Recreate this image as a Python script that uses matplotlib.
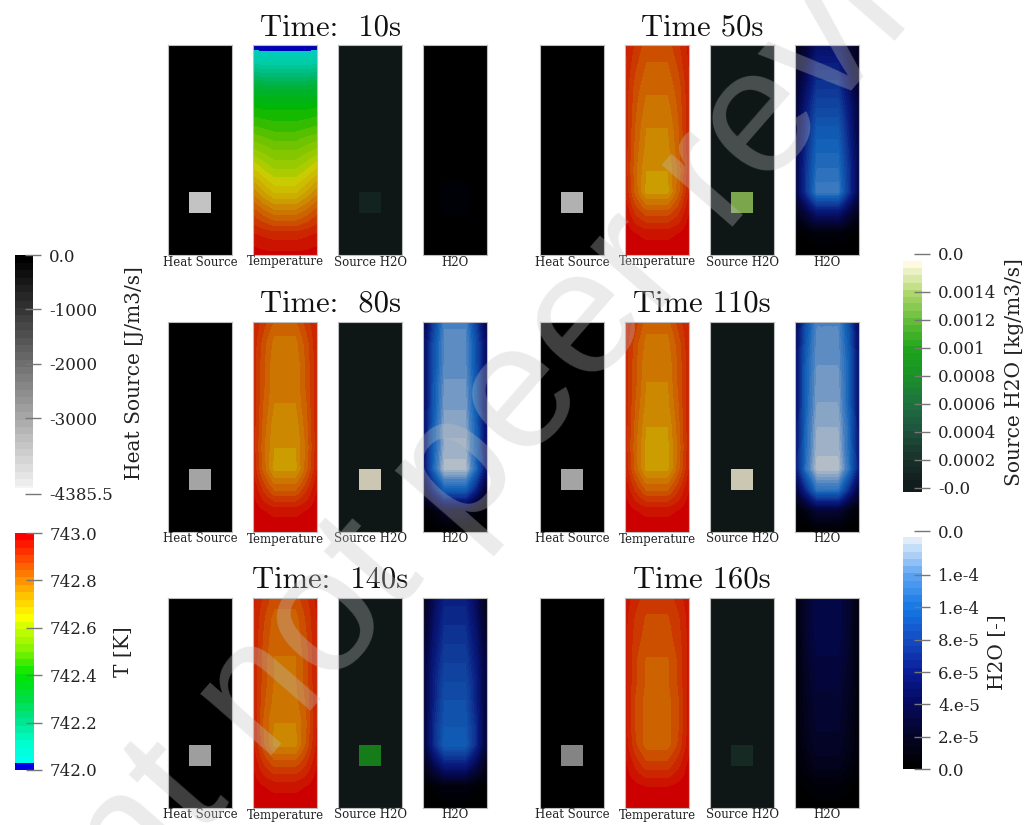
import matplotlib
matplotlib.use("Agg")
import matplotlib.pyplot as plt
import numpy as np
from matplotlib.colors import LinearSegmentedColormap, ListedColormap, Normalize

plt.rcParams["font.family"] = "DejaVu Serif"

# ---- data ---------------------------------------------------------------
titles = ["Time:  10s", "Time 50s", "Time:  80s", "Time 110s", "Time:  140s", "Time 160s"]
field_names = ["Heat Source", "Temperature", "Source H2O", "H2O"]

# value inside the small source cell (row 7, middle column of a 3x10 mesh)
heat_square = [-4385.5, -3880, -3650, -3700, -3430, -2980]          # J/m3/s
source_square = [0.00018, 0.00134, 0.00159, 0.00159, 0.00088, 0.00022]  # kg/m3/s

# temperature [K] at 11 nodes, top -> bottom: edge, mid and centre column
temp_edge = [
    [742.00, 742.14, 742.31, 742.41, 742.48, 742.57, 742.67, 742.77, 742.87, 742.94, 742.99],
    [742.95, 742.94, 742.93, 742.93, 742.93, 742.93, 742.93, 742.94, 742.97, 742.99, 743.00],
    [742.94, 742.93, 742.93, 742.93, 742.93, 742.93, 742.93, 742.94, 742.97, 742.99, 743.00],
    [742.94, 742.93, 742.93, 742.93, 742.93, 742.93, 742.93, 742.94, 742.97, 742.99, 743.00],
    [742.95, 742.94, 742.94, 742.94, 742.94, 742.94, 742.94, 742.95, 742.97, 742.99, 743.00],
    [742.96, 742.95, 742.95, 742.95, 742.95, 742.95, 742.95, 742.96, 742.98, 742.99, 743.00],
]
temp_mid = [
    [741.99, 742.13, 742.30, 742.40, 742.47, 742.55, 742.63, 742.72, 742.83, 742.93, 742.98],
    [742.90, 742.88, 742.86, 742.85, 742.84, 742.83, 742.82, 742.83, 742.90, 742.97, 742.99],
    [742.89, 742.86, 742.85, 742.85, 742.84, 742.83, 742.82, 742.83, 742.90, 742.97, 742.99],
    [742.89, 742.86, 742.85, 742.85, 742.84, 742.83, 742.82, 742.83, 742.90, 742.97, 742.99],
    [742.90, 742.88, 742.87, 742.86, 742.86, 742.85, 742.84, 742.85, 742.91, 742.97, 742.99],
    [742.92, 742.90, 742.89, 742.88, 742.88, 742.87, 742.87, 742.88, 742.93, 742.98, 742.99],
]
temp_center = [
    [741.99, 742.13, 742.30, 742.40, 742.46, 742.53, 742.60, 742.68, 742.80, 742.92, 742.98],
    [742.86, 742.84, 742.82, 742.80, 742.78, 742.77, 742.75, 742.74, 742.86, 742.96, 742.99],
    [742.84, 742.80, 742.79, 742.79, 742.78, 742.76, 742.75, 742.74, 742.84, 742.96, 742.99],
    [742.83, 742.80, 742.79, 742.78, 742.77, 742.75, 742.74, 742.74, 742.84, 742.96, 742.99],
    [742.86, 742.83, 742.82, 742.81, 742.81, 742.80, 742.78, 742.77, 742.87, 742.96, 742.99],
    [742.89, 742.87, 742.86, 742.84, 742.84, 742.83, 742.83, 742.83, 742.89, 742.97, 742.99],
]

# H2O mass fraction in units of 1e-5, same node layout
h2o_edge = [
    [0, 0, 0, 0, 0, 0, 0, 0, 0, 0, 0],
    [1.5, 2.0, 2.5, 3.0, 3.0, 3.5, 3.5, 3.5, 1.5, 0.2, 0],
    [3.5, 4.5, 4.5, 4.5, 4.5, 5.0, 5.0, 5.0, 2.5, 0.4, 0],
    [4.0, 4.5, 5.0, 5.0, 5.0, 5.0, 5.5, 5.5, 3.0, 0.5, 0],
    [1.5, 2.0, 2.5, 3.0, 3.0, 3.0, 3.0, 3.0, 1.5, 0.2, 0],
    [0.8, 0.8, 0.8, 0.8, 0.8, 0.8, 0.7, 0.7, 0.5, 0.2, 0],
]
h2o_mid = [
    [0, 0, 0, 0, 0, 0, 0.1, 0.3, 0.2, 0, 0],
    [3.0, 4.0, 5.0, 6.0, 6.5, 7.0, 7.5, 7.5, 3.5, 0.5, 0],
    [8.0, 9.0, 9.0, 9.5, 9.5, 10.0, 10.0, 10.5, 6.5, 1.2, 0],
    [9.0, 9.5, 10.0, 10.0, 10.0, 10.5, 10.5, 11.0, 7.0, 1.5, 0],
    [4.5, 5.0, 5.5, 6.0, 6.5, 6.5, 7.0, 7.0, 4.0, 0.6, 0],
    [2.8, 2.8, 2.7, 2.5, 2.3, 2.1, 2.0, 1.8, 1.3, 0.5, 0.1],
]
h2o_center = [
    [0, 0, 0, 0, 0, 0, 0.3, 0.6, 0.5, 0.1, 0],
    [5.0, 6.5, 7.5, 8.5, 9.5, 10.2, 10.8, 11.5, 5.5, 1.0, 0],
    [12.0, 12.2, 12.3, 12.6, 12.9, 13.2, 13.6, 14.1, 10.0, 2.5, 0.3],
    [12.0, 12.3, 12.5, 12.8, 13.0, 13.4, 13.7, 14.1, 11.0, 3.0, 0.4],
    [6.5, 7.0, 7.5, 8.0, 8.5, 9.0, 9.3, 9.8, 6.0, 1.2, 0.1],
    [4.0, 4.0, 3.8, 3.5, 3.2, 3.0, 2.8, 2.5, 2.0, 0.8, 0.2],
]

# colour bar ticks
heat_ticks = [0.0, -1000, -2000, -3000, -4385.5]
heat_labels = ["0.0", "-1000", "-2000", "-3000", "-4385.5"]
temp_ticks = [743.0, 742.8, 742.6, 742.4, 742.2, 742.0]
temp_labels = ["743.0", "742.8", "742.6", "742.4", "742.2", "742.0"]
src_ticks = [0.00167, 0.0014, 0.0012, 0.001, 0.0008, 0.0006, 0.0004, 0.0002, 0.0]
src_labels = ["0.0", "0.0014", "0.0012", "0.001", "0.0008", "0.0006", "0.0004", "0.0002", "-0.0"]
h2o_ticks = [1.472e-4, 1.2e-4, 1e-4, 8e-5, 6e-5, 4e-5, 2e-5, 0.0]
h2o_labels = ["0.0", "1.e-4", "1.e-4", "8.e-5", "6.e-5", "4.e-5", "2.e-5", "0.0"]

# ---- colour maps ----------------------------------------------------------
HEAT_ANCH = [(0.0, (0.96, 0.96, 0.96)), (1.0, (0.0, 0.0, 0.0))]
TEMP_ANCH = [(0.0, (0.0, 0.0, 0.9)), (0.031, (0.0, 1.0, 0.92)), (0.1, (0.0, 1.0, 0.8)),
             (0.2, (0.0, 0.9, 0.55)), (0.3, (0.0, 0.87, 0.25)), (0.4, (0.0, 0.9, 0.0)),
             (0.5, (0.5, 0.95, 0.0)), (0.6, (0.8, 1.0, 0.0)), (0.65, (1.0, 1.0, 0.0)),
             (0.75, (1.0, 0.75, 0.0)), (0.8, (1.0, 0.6, 0.0)), (0.9, (1.0, 0.3, 0.0)),
             (1.0, (1.0, 0.0, 0.0))]
SRC_ANCH = [(0.0, (0.07, 0.11, 0.11)), (0.12, (0.1, 0.2, 0.17)), (0.25, (0.12, 0.33, 0.25)),
            (0.37, (0.12, 0.45, 0.25)), (0.5, (0.1, 0.58, 0.15)), (0.62, (0.12, 0.65, 0.1)),
            (0.74, (0.38, 0.74, 0.22)), (0.87, (0.68, 0.84, 0.42)), (1.0, (1.0, 0.98, 0.88))]
H2O_ANCH = [(0.0, (0.0, 0.0, 0.0)), (0.14, (0.02, 0.02, 0.16)), (0.28, (0.02, 0.04, 0.38)),
            (0.42, (0.04, 0.12, 0.6)), (0.56, (0.08, 0.3, 0.76)), (0.70, (0.08, 0.47, 0.9)),
            (0.84, (0.35, 0.63, 0.95)), (1.0, (0.88, 0.93, 0.98))]

SHADE = 0.8  # the rendered fields look darker than the bars (lighting)


def banded(anchors, shade=1.0, n=32):
    base = LinearSegmentedColormap.from_list("base", anchors)
    cols = base(np.linspace(0, 1, n))
    cols[:, :3] *= shade
    cm = ListedColormap(cols)
    cm.set_under(cols[0])
    cm.set_over(cols[-1])
    return cm


heat_norm = Normalize(-4385.5, 0.0)
temp_norm = Normalize(742.0, 743.0)
src_norm = Normalize(0.0, 0.001614)
h2o_norm = Normalize(0.0, 1.43e-4)

W, H = 1033, 825
fig = plt.figure(figsize=(W / 100, H / 100), dpi=100)


def px_axes(x, y, w, h):
    return fig.add_axes([x / W, 1 - (y + h) / H, w / W, h / H])


def cell_field(value):
    grid = np.zeros((10, 3))
    grid[7, 1] = value
    return grid


def node_field(edge, mid, center):
    # node columns at x = 0, .5, 1, 1.5, 2, 2.5, 3 (mesh is 3 cells wide)
    return np.column_stack([edge, mid, center, center, center, mid, edge])


col_left = [[168, 253, 338, 423], [540, 625, 710, 795]]
row_top = [45, 322, 598]
title_x = [330, 702]
RW, RH = 64, 210

for i in range(6):
    r, c = divmod(i, 2)
    top = row_top[r]
    fields = [
        (cell_field(heat_square[i]), banded(HEAT_ANCH, SHADE), heat_norm, "cell"),
        (node_field(temp_edge[i], temp_mid[i], temp_center[i]), banded(TEMP_ANCH, SHADE), temp_norm, "node"),
        (cell_field(source_square[i]), banded(SRC_ANCH, SHADE), src_norm, "cell"),
        (node_field(h2o_edge[i], h2o_mid[i], h2o_center[i]) * 1e-5, banded(H2O_ANCH, SHADE), h2o_norm, "node"),
    ]
    for j, (grid, cm, nm, kind) in enumerate(fields):
        x0 = col_left[c][j]
        ax = px_axes(x0, top, RW, RH)
        if kind == "cell":
            ax.imshow(grid, cmap=cm, norm=nm, extent=(0, 3, 10, 0),
                      interpolation="nearest", aspect="auto")
        else:
            ax.imshow(grid, cmap=cm, norm=nm, extent=(-0.25, 3.25, 10.5, -0.5),
                      interpolation="bilinear", interpolation_stage="data", aspect="auto")
        ax.set_xlim(0, 3)
        ax.set_ylim(10, 0)
        ax.set_xticks([])
        ax.set_yticks([])
        for s in ax.spines.values():
            s.set_color("#bdbdbd")
            s.set_linewidth(0.8)
        fig.text((x0 + RW / 2) / W, 1 - (top + RH + 7) / H, field_names[j],
                 ha="center", va="center", fontsize=8.5, color="#222222")
    fig.text(title_x[c] / W, 1 - (top - 10) / H, titles[i], family="cmr10",
             ha="center", va="baseline", fontsize=22, color="#111111")


def color_bar(x, w, ytop, ybot, ylim, lo, hi, anchors, norm, ticks, labels, label, lx, ly):
    ax = px_axes(x, ytop, w, ybot - ytop)
    grad = np.linspace(lo, hi, 256)[:, None]
    ax.imshow(grad, cmap=banded(anchors), norm=norm, origin="lower",
              extent=(0, 1, lo, hi), aspect="auto", interpolation="nearest")
    ax.set_xlim(0, 1)
    ax.set_ylim(*ylim)
    ax.set_xticks([])
    ax.yaxis.tick_right()
    ax.set_yticks(ticks, labels)
    ax.tick_params(axis="y", direction="inout", length=11, width=1, color="#777777",
                   pad=6, labelsize=12, labelcolor="#222222")
    for s in ax.spines.values():
        s.set_visible(False)
    fig.text(lx / W, 1 - ly / H, label, rotation=90, ha="center", va="center",
             fontsize=14.5, color="#222222")


color_bar(15, 18, 255, 494, (-4385.5, 0.0), -4270, 0.0, HEAT_ANCH, heat_norm,
          heat_ticks, heat_labels, "Heat Source [J/m3/s]", 135, 373)
color_bar(15, 19, 533, 770, (742.0, 743.0), 742.0, 743.0, TEMP_ANCH, temp_norm,
          temp_ticks, temp_labels, "T [K]", 123, 652)
color_bar(903, 19, 254, 492, (-0.0000286, 0.00167), -0.0000286, 0.001614, SRC_ANCH, src_norm,
          src_ticks, src_labels, "Source H2O [kg/m3/s]", 1015, 372)
color_bar(903, 19, 531, 771, (-1.2e-6, 1.472e-4), 0.0, 1.43e-4, H2O_ANCH, h2o_norm,
          h2o_ticks, h2o_labels, "H2O [-]", 998, 652)

# diagonal preprint watermark (runs off the page, as in the source)
fig.text(508 / W, 1 - 485 / H, "Preprint not peer reviewed", rotation=48.9,
         rotation_mode="anchor", ha="center", va="baseline", fontsize=128,
         family="Liberation Sans", color=(0.76, 0.76, 0.76), alpha=0.33, zorder=10)

fig.savefig("out.png", dpi=100)
